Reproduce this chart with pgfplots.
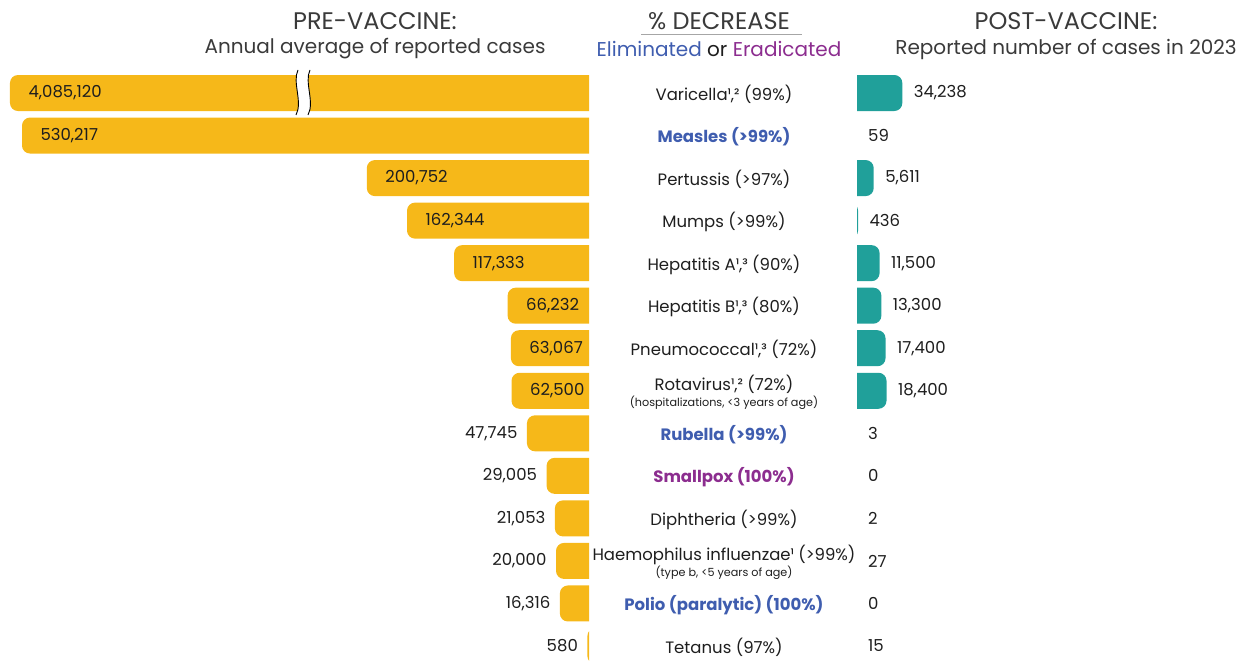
\documentclass[border=0pt]{standalone}
\usepackage{fontspec}
\setmainfont{Poppins}
\usepackage{pgfplots}
\usepackage{pgfplotstable}
\pgfplotsset{compat=1.18}
\definecolor{pregold}{HTML}{F6B819}
\definecolor{postteal}{HTML}{20A09A}
\definecolor{elimblue}{HTML}{3F5DAF}
\definecolor{eradpurple}{HTML}{8C2D8F}
\definecolor{hdr}{HTML}{3A3A3A}
\definecolor{txt}{HTML}{1E1E1E}

% row: 0 = top
\pgfplotstableread{
row pre post
0 4085120 34238
1 530217 59
2 200752 5611
3 162344 436
4 117333 11500
5 66232 13300
6 63067 17400
7 62500 18400
8 47745 3
9 29005 0
10 21053 2
11 20000 27
12 16316 0
13 580 15
}\vaccdata

\pgfplotsset{rowlayout/.style={
  scale only axis, height=590.27pt,
  y dir=reverse, ymin=-0.5, ymax=13.376,
  enlargelimits=false}}

\begin{document}
\begin{tikzpicture}[x=1pt,y=1pt]
\useasboundingbox (0,0) rectangle (1243,662);

% ---------- headers ----------
\node[font=\fontsize{24}{28}\selectfont, text=hdr] at (375,641) {PRE-VACCINE:};
\node[font=\fontsize{20}{24}\selectfont, text=hdr] at (375,613) {Annual average of reported cases};
\node[font=\fontsize{24}{28}\selectfont, text=hdr] at (719,641) {\% DECREASE};
\draw[gray!70, line width=1pt] (641,627) -- (802,627);
\node[font=\fontsize{20}{24}\selectfont] at (719,613) {\textcolor{elimblue}{Eliminated} \textcolor{txt}{or} \textcolor{eradpurple}{Eradicated}};
\node[font=\fontsize{24}{28}\selectfont, text=hdr] at (1066,641) {POST-VACCINE:};
\node[font=\fontsize{20}{24}\selectfont, text=hdr] at (1066,613) {Reported number of cases in 2023};

% ---------- disease names and % decrease (centre) ----------
\begin{axis}[rowlayout,
  at={(857pt,0pt)}, anchor=south west,
  width=386pt, xmin=0, xmax=1, clip=true,
  xtick=\empty, axis line style={draw=none}, major tick length=0pt,
  ytick={0,...,13},
  yticklabels={
    {Varicella¹,² (99\%)},
    {\textcolor{elimblue}{\bfseries Measles (>99\%)}},
    {Pertussis (>97\%)},
    {Mumps (>99\%)},
    {Hepatitis A¹,³ (90\%)},
    {Hepatitis B¹,³ (80\%)},
    {Pneumococcal¹,³ (72\%)},
    {Rotavirus¹,² (72\%)\\[-2pt]{\fontsize{11.2}{12}\selectfont (hospitalizations, <3 years of age)}},
    {\textcolor{elimblue}{\bfseries Rubella (>99\%)}},
    {\textcolor{eradpurple}{\bfseries Smallpox (100\%)}},
    {Diphtheria (>99\%)},
    {Haemophilus influenzae¹ (>99\%)\\[-2pt]{\fontsize{11.2}{12}\selectfont (type b, <5 years of age)}},
    {\textcolor{elimblue}{\bfseries Polio (paralytic) (100\%)}},
    {Tetanus (97\%)}
  },
  yticklabel style={anchor=center, xshift=-133pt, yshift=-1.5pt, align=center, text=txt,
    font=\fontsize{16.5}{18}\selectfont},
]
\addplot[draw=none, mark=none] coordinates {(0.5,0) (0.5,13)};
\end{axis}

% ---------- pre-vaccine (left) ----------
\begin{scope}
\clip (0,0) rectangle (589,662);
\begin{axis}[rowlayout,
  at={(5pt,0pt)}, anchor=south west,
  width=615.4pt,
  hide axis, clip=false,
  xbar, bar width=36pt,
  x dir=reverse, xmin=-30000, xmax=546469,
  % infographic scale: small offset for readable bars, axis break above 1,000,000
  x coord trafo/.code={\begingroup\pgfkeys{/pgf/fpu=true,/pgf/fpu/output format=fixed}%
    \pgfmathparse{30000+#1+(#1>=0)*((#1<1000)*(2.5*#1-500-11531)+11531)+(#1>1000000)*(553220-#1-11531)}%
    \pgfmathsmuggle\pgfmathresult\endgroup},
  point meta=rawx,
  nodes near coords={\pgfmathprintnumber[fixed,precision=0,1000 sep={,},assume math mode=true]{\pgfplotspointmeta}},
]
\addplot[fill=pregold, draw=none, bar shift=0pt, rounded corners=8pt,
  restrict y to domain=0:7,
  every node near coord/.append style={anchor=west, xshift=15pt, text=txt, font=\fontsize{16.5}{18}\selectfont, rounded corners=0pt}]
  table[x=pre, y=row] {\vaccdata};
\addplot[fill=pregold, draw=none, bar shift=0pt, rounded corners=8pt,
  restrict y to domain=8:13,
  every node near coord/.append style={anchor=east, xshift=-6pt, text=txt, font=\fontsize{16.5}{18}\selectfont, rounded corners=0pt}]
  table[x=pre, y=row] {\vaccdata};
\end{axis}
\end{scope}

% axis break mark on the Varicella bar
\fill[white] (298,592) .. controls (292,580) and (303,560) .. (296,547) -- (308,547) .. controls (315,560) and (304,580) .. (310,592) -- cycle;
\draw[black, line width=0.9pt] (298,592) .. controls (292,580) and (303,560) .. (296,547);
\draw[black, line width=0.9pt] (310,592) .. controls (304,580) and (315,560) .. (308,547);

% ---------- post-vaccine (right) ----------
\begin{scope}
\clip (857,0) rectangle (1243,662);
\begin{axis}[rowlayout,
  at={(827pt,0pt)}, anchor=south west,
  width=416pt,
  hide axis, clip=false,
  xbar, bar width=36pt,
  xmin=-30000, xmax=374900,
  x coord trafo/.code={\begingroup\pgfkeys{/pgf/fpu=true,/pgf/fpu/output format=fixed}%
    \pgfmathparse{30000+#1+(#1>=0)*((#1<1000)*(2.5*#1-500-11100)+11100)}%
    \pgfmathsmuggle\pgfmathresult\endgroup},
  point meta=rawx,
  nodes near coords={\pgfmathprintnumber[fixed,precision=0,1000 sep={,},assume math mode=true]{\pgfplotspointmeta}},
]
\addplot[fill=postteal, draw=none, bar shift=0pt, rounded corners=8pt,
  every node near coord/.append style={anchor=west, xshift=8pt, text=txt, font=\fontsize{16.5}{18}\selectfont, rounded corners=0pt}]
  table[x=post, y=row] {\vaccdata};
\end{axis}
\end{scope}
\end{tikzpicture}
\end{document}
